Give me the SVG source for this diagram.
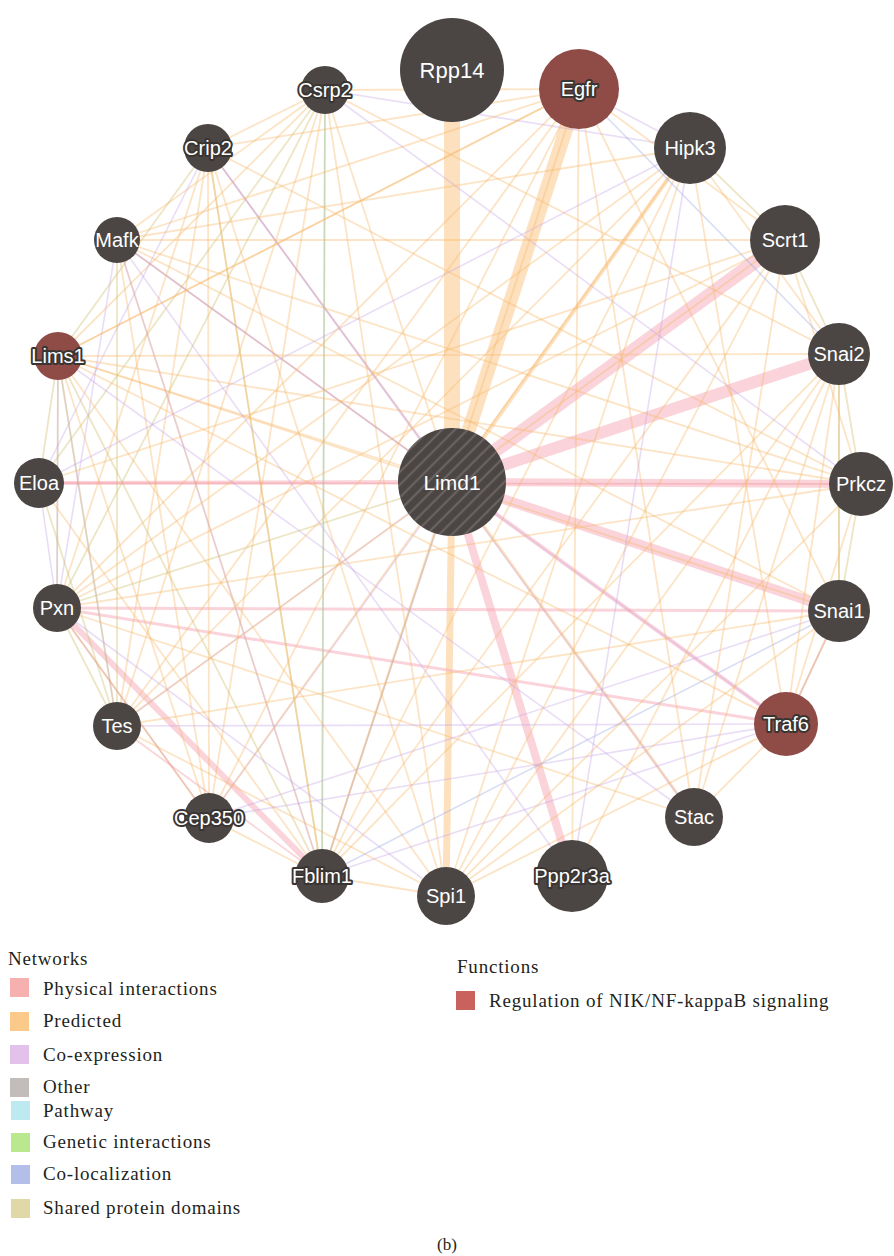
<svg xmlns="http://www.w3.org/2000/svg" width="894" height="1256" viewBox="0 0 894 1256">
<style>
.pr{stroke:#f6b868;stroke-opacity:.38;stroke-width:1.8;fill:none}
.ph{stroke:#f08a94;stroke-opacity:.36;stroke-width:1.8;fill:none}
.ce{stroke:#c6a0e6;stroke-opacity:.36;stroke-width:1.6;fill:none}
.sd{stroke:#cfc170;stroke-opacity:.4;stroke-width:1.8;fill:none}
.cl{stroke:#98a6e2;stroke-opacity:.38;stroke-width:1.6;fill:none}
.pw{stroke:#98d8e2;stroke-opacity:.55;stroke-width:1.6;fill:none}
.tpr{stroke:#fbc98a;stroke-opacity:.55;fill:none}
.tph{stroke:#f6aab6;stroke-opacity:.5;fill:none}
.n{fill:#4b4644}
.r{fill:#8f4b46}
.lb{font-family:"Liberation Sans",Arial,sans-serif;font-size:20px;fill:#ffffff;text-anchor:middle}
.o{stroke:#3a3533;stroke-width:4;stroke-linejoin:round;paint-order:stroke}
.lg{font-family:"Liberation Serif","Times New Roman",serif;font-size:19px;letter-spacing:0.8px;fill:#231f20}
</style>
<defs>
<pattern id="hatch" width="9" height="9" patternUnits="userSpaceOnUse" patternTransform="rotate(-45)">
<rect width="9" height="9" fill="#4b4644"/>
<line x1="0" y1="4.5" x2="9" y2="4.5" stroke="#6f6967" stroke-width="1.8"/>
</pattern>
</defs>
<rect width="894" height="1256" fill="#ffffff"/>
<g id="connectors">
<line class="tpr" x1="452" y1="482" x2="452" y2="70" stroke-width="16"/>
<line class="tpr" x1="452" y1="482" x2="579" y2="89" stroke-width="14"/>
<line class="tph" x1="452" y1="482" x2="785" y2="240" stroke-width="14"/>
<line class="tph" x1="452" y1="482" x2="839" y2="354" stroke-width="12"/>
<line class="tph" x1="452" y1="482" x2="861" y2="484" stroke-width="8"/>
<line class="tph" x1="452" y1="482" x2="839" y2="611" stroke-width="10"/>
<line class="tph" x1="452" y1="482" x2="572" y2="876" stroke-width="8"/>
<line class="tpr" x1="452" y1="482" x2="446" y2="896" stroke-width="7"/>
<line class="tph" x1="452" y1="482" x2="786" y2="724" stroke-width="4"/>
<line class="tpr" x1="452" y1="482" x2="690" y2="148" stroke-width="4"/>
<line class="tpr" x1="452" y1="482" x2="694" y2="817" stroke-width="3"/>
<line class="tph" x1="452" y1="482" x2="39" y2="483" stroke-width="4"/>
<line class="tph" x1="57" y1="608" x2="322" y2="876" stroke-width="6"/>
<line class="tph" x1="57" y1="608" x2="839" y2="611" stroke-width="3"/>
<line class="tph" x1="57" y1="608" x2="786" y2="724" stroke-width="3"/>
<line class="pr" x1="452" y1="482" x2="325" y2="90"/>
<line class="pr" x1="452" y1="482" x2="208" y2="148"/>
<line class="ce" x1="452" y1="482" x2="208" y2="148"/>
<line class="ce" x1="452" y1="482" x2="117" y2="240"/>
<line class="pr" x1="452" y1="482" x2="117" y2="240"/>
<line class="pr" x1="452" y1="482" x2="58" y2="356"/>
<line class="sd" x1="452" y1="482" x2="57" y2="608"/>
<line class="ce" x1="452" y1="482" x2="117" y2="726"/>
<line class="ce" x1="452" y1="482" x2="209" y2="818"/>
<line class="pr" x1="452" y1="482" x2="322" y2="876"/>
<line class="cl" x1="452" y1="482" x2="322" y2="876"/>
<line class="sd" x1="325" y1="90" x2="57" y2="608"/>
<line class="pr" x1="325" y1="90" x2="117" y2="726"/>
<line class="pw" x1="325" y1="90" x2="322" y2="876"/>
<line class="sd" x1="325" y1="90" x2="322" y2="876"/>
<line class="pr" x1="325" y1="90" x2="209" y2="818"/>
<line class="pr" x1="325" y1="90" x2="58" y2="356"/>
<line class="pr" x1="325" y1="90" x2="117" y2="240"/>
<line class="sd" x1="325" y1="90" x2="39" y2="483"/>
<line class="ce" x1="325" y1="90" x2="690" y2="148"/>
<line class="pr" x1="325" y1="90" x2="579" y2="89"/>
<line class="pr" x1="325" y1="90" x2="839" y2="354"/>
<line class="pr" x1="325" y1="90" x2="446" y2="896"/>
<line class="pr" x1="325" y1="90" x2="208" y2="148"/>
<line class="ce" x1="325" y1="90" x2="861" y2="484"/>
<line class="sd" x1="208" y1="148" x2="322" y2="876"/>
<line class="pr" x1="208" y1="148" x2="117" y2="726"/>
<line class="pr" x1="208" y1="148" x2="57" y2="608"/>
<line class="ce" x1="208" y1="148" x2="39" y2="483"/>
<line class="pr" x1="208" y1="148" x2="209" y2="818"/>
<line class="pr" x1="208" y1="148" x2="446" y2="896"/>
<line class="ce" x1="208" y1="148" x2="694" y2="817"/>
<line class="pr" x1="208" y1="148" x2="579" y2="89"/>
<line class="pr" x1="208" y1="148" x2="861" y2="484"/>
<line class="sd" x1="208" y1="148" x2="58" y2="356"/>
<line class="pr" x1="208" y1="148" x2="322" y2="876"/>
<line class="pr" x1="117" y1="240" x2="861" y2="484"/>
<line class="pr" x1="117" y1="240" x2="839" y2="611"/>
<line class="ce" x1="117" y1="240" x2="786" y2="724"/>
<line class="pr" x1="117" y1="240" x2="322" y2="876"/>
<line class="ce" x1="117" y1="240" x2="322" y2="876"/>
<line class="pr" x1="117" y1="240" x2="785" y2="240"/>
<line class="pr" x1="117" y1="240" x2="690" y2="148"/>
<line class="ce" x1="117" y1="240" x2="57" y2="608"/>
<line class="sd" x1="117" y1="240" x2="117" y2="726"/>
<line class="pr" x1="117" y1="240" x2="209" y2="818"/>
<line class="pr" x1="58" y1="356" x2="839" y2="354"/>
<line class="pr" x1="58" y1="356" x2="861" y2="484"/>
<line class="pr" x1="58" y1="356" x2="786" y2="724"/>
<line class="sd" x1="58" y1="356" x2="322" y2="876"/>
<line class="pr" x1="58" y1="356" x2="446" y2="896"/>
<line class="pr" x1="58" y1="356" x2="579" y2="89"/>
<line class="sd" x1="58" y1="356" x2="39" y2="483"/>
<line class="sd" x1="58" y1="356" x2="57" y2="608"/>
<line class="ce" x1="58" y1="356" x2="57" y2="608"/>
<line class="ce" x1="58" y1="356" x2="117" y2="726"/>
<line class="pr" x1="58" y1="356" x2="839" y2="611"/>
<line class="ce" x1="58" y1="356" x2="694" y2="817"/>
<line class="sd" x1="58" y1="356" x2="117" y2="726"/>
<line class="pr" x1="58" y1="356" x2="209" y2="818"/>
<line class="ph" x1="39" y1="483" x2="861" y2="484"/>
<line class="ce" x1="39" y1="483" x2="690" y2="148"/>
<line class="ce" x1="39" y1="483" x2="57" y2="608"/>
<line class="pr" x1="39" y1="483" x2="322" y2="876"/>
<line class="pr" x1="39" y1="483" x2="785" y2="240"/>
<line class="sd" x1="39" y1="483" x2="117" y2="726"/>
<line class="pr" x1="57" y1="608" x2="861" y2="484"/>
<line class="sd" x1="57" y1="608" x2="117" y2="726"/>
<line class="pr" x1="57" y1="608" x2="579" y2="89"/>
<line class="pr" x1="57" y1="608" x2="785" y2="240"/>
<line class="ce" x1="57" y1="608" x2="446" y2="896"/>
<line class="pr" x1="57" y1="608" x2="694" y2="817"/>
<line class="sd" x1="57" y1="608" x2="209" y2="818"/>
<line class="pr" x1="57" y1="608" x2="690" y2="148"/>
<line class="ce" x1="117" y1="726" x2="786" y2="724"/>
<line class="pr" x1="117" y1="726" x2="839" y2="611"/>
<line class="pr" x1="117" y1="726" x2="690" y2="148"/>
<line class="pr" x1="117" y1="726" x2="579" y2="89"/>
<line class="ph" x1="117" y1="726" x2="322" y2="876"/>
<line class="pr" x1="117" y1="726" x2="446" y2="896"/>
<line class="pr" x1="117" y1="726" x2="785" y2="240"/>
<line class="ce" x1="209" y1="818" x2="786" y2="724"/>
<line class="ce" x1="209" y1="818" x2="839" y2="611"/>
<line class="pr" x1="209" y1="818" x2="690" y2="148"/>
<line class="pr" x1="209" y1="818" x2="579" y2="89"/>
<line class="pr" x1="209" y1="818" x2="322" y2="876"/>
<line class="ph" x1="209" y1="818" x2="57" y2="608"/>
<line class="pr" x1="322" y1="876" x2="690" y2="148"/>
<line class="pr" x1="322" y1="876" x2="579" y2="89"/>
<line class="pr" x1="322" y1="876" x2="785" y2="240"/>
<line class="ce" x1="322" y1="876" x2="786" y2="724"/>
<line class="pr" x1="322" y1="876" x2="839" y2="354"/>
<line class="pr" x1="322" y1="876" x2="446" y2="896"/>
<line class="cl" x1="322" y1="876" x2="839" y2="611"/>
<line class="pr" x1="446" y1="896" x2="861" y2="484"/>
<line class="pr" x1="446" y1="896" x2="839" y2="354"/>
<line class="pr" x1="446" y1="896" x2="786" y2="724"/>
<line class="pr" x1="446" y1="896" x2="839" y2="611"/>
<line class="pr" x1="446" y1="896" x2="690" y2="148"/>
<line class="pr" x1="446" y1="896" x2="785" y2="240"/>
<line class="pr" x1="572" y1="876" x2="839" y2="354"/>
<line class="pr" x1="572" y1="876" x2="579" y2="89"/>
<line class="ce" x1="572" y1="876" x2="117" y2="240"/>
<line class="pr" x1="694" y1="817" x2="839" y2="354"/>
<line class="pr" x1="694" y1="817" x2="785" y2="240"/>
<line class="pr" x1="694" y1="817" x2="786" y2="724"/>
<line class="pr" x1="694" y1="817" x2="579" y2="89"/>
<line class="sd" x1="690" y1="148" x2="785" y2="240"/>
<line class="sd" x1="785" y1="240" x2="839" y2="354"/>
<line class="sd" x1="839" y1="354" x2="861" y2="484"/>
<line class="sd" x1="861" y1="484" x2="839" y2="611"/>
<line class="sd" x1="839" y1="611" x2="786" y2="724"/>
<line class="pr" x1="839" y1="354" x2="839" y2="611"/>
<line class="sd" x1="839" y1="354" x2="839" y2="611"/>
<line class="pr" x1="839" y1="354" x2="786" y2="724"/>
<line class="pr" x1="861" y1="484" x2="786" y2="724"/>
<line class="pr" x1="785" y1="240" x2="861" y2="484"/>
<line class="pr" x1="690" y1="148" x2="839" y2="354"/>
<line class="cl" x1="579" y1="89" x2="839" y2="354"/>
<line class="ce" x1="579" y1="89" x2="690" y2="148"/>
<line class="pr" x1="579" y1="89" x2="785" y2="240"/>
<line class="pr" x1="579" y1="89" x2="839" y2="611"/>
<line class="pr" x1="579" y1="89" x2="117" y2="240"/>
<line class="pr" x1="579" y1="89" x2="58" y2="356"/>
<line class="ph" x1="839" y1="611" x2="786" y2="724"/>
<line class="pr" x1="690" y1="148" x2="786" y2="724"/>
<line class="ce" x1="690" y1="148" x2="572" y2="876"/>
</g>
<g id="node-Rpp14"><circle class="n" cx="452" cy="70" r="52"/><text class="lb" x="452" y="78" style="font-size:22px">Rpp14</text></g>
<g id="node-Egfr"><circle class="r" cx="579" cy="89" r="40"/><text class="lb o" x="579" y="96">Egfr</text></g>
<g id="node-Hipk3"><circle class="n" cx="690" cy="148" r="36"/><text class="lb" x="690" y="155">Hipk3</text></g>
<g id="node-Scrt1"><circle class="n" cx="785" cy="240" r="35"/><text class="lb" x="785" y="247">Scrt1</text></g>
<g id="node-Snai2"><circle class="n" cx="839" cy="354" r="31"/><text class="lb" x="839" y="361">Snai2</text></g>
<g id="node-Prkcz"><circle class="n" cx="861" cy="484" r="32"/><text class="lb" x="861" y="491">Prkcz</text></g>
<g id="node-Snai1"><circle class="n" cx="839" cy="611" r="31"/><text class="lb" x="839" y="618">Snai1</text></g>
<g id="node-Traf6"><circle class="r" cx="786" cy="724" r="32"/><text class="lb o" x="786" y="731">Traf6</text></g>
<g id="node-Stac"><circle class="n" cx="694" cy="817" r="29"/><text class="lb" x="694" y="824">Stac</text></g>
<g id="node-Ppp2r3a"><circle class="n" cx="572" cy="876" r="36"/><text class="lb o" x="572" y="883">Ppp2r3a</text></g>
<g id="node-Spi1"><circle class="n" cx="446" cy="896" r="29"/><text class="lb" x="446" y="903">Spi1</text></g>
<g id="node-Fblim1"><circle class="n" cx="322" cy="876" r="27"/><text class="lb o" x="322" y="883">Fblim1</text></g>
<g id="node-Cep350"><circle class="n" cx="209" cy="818" r="25"/><text class="lb o" x="209" y="825">Cep350</text></g>
<g id="node-Tes"><circle class="n" cx="117" cy="726" r="24"/><text class="lb" x="117" y="733">Tes</text></g>
<g id="node-Pxn"><circle class="n" cx="57" cy="608" r="24"/><text class="lb" x="57" y="615">Pxn</text></g>
<g id="node-Eloa"><circle class="n" cx="39" cy="483" r="25"/><text class="lb" x="39" y="490">Eloa</text></g>
<g id="node-Lims1"><circle class="r" cx="58" cy="356" r="24"/><text class="lb o" x="58" y="363">Lims1</text></g>
<g id="node-Mafk"><circle class="n" cx="117" cy="240" r="23"/><text class="lb" x="117" y="247">Mafk</text></g>
<g id="node-Crip2"><circle class="n" cx="208" cy="148" r="24"/><text class="lb o" x="208" y="155">Crip2</text></g>
<g id="node-Csrp2"><circle class="n" cx="325" cy="90" r="24"/><text class="lb o" x="325" y="97">Csrp2</text></g>
<g id="node-Limd1"><circle cx="452" cy="482" r="54" fill="url(#hatch)"/><text class="lb" x="452" y="490" style="font-size:21px">Limd1</text></g>
<g id="legend-networks">
<text class="lg" x="8" y="965">Networks</text>
<rect x="10" y="978" width="19" height="19" fill="#f7b0b0"/><text class="lg" x="43" y="995">Physical interactions</text>
<rect x="10" y="1012" width="19" height="19" fill="#fbc98a"/><text class="lg" x="43" y="1027">Predicted</text>
<rect x="10" y="1045" width="19" height="19" fill="#e2c2ea"/><text class="lg" x="43" y="1061">Co-expression</text>
<rect x="10" y="1078" width="19" height="19" fill="#c2bcbb"/><text class="lg" x="43" y="1093">Other</text>
<rect x="11" y="1101" width="19" height="19" fill="#bdeaf0"/><text class="lg" x="43" y="1117">Pathway</text>
<rect x="11" y="1133" width="19" height="19" fill="#b9e88f"/><text class="lg" x="43" y="1148">Genetic interactions</text>
<rect x="11" y="1165" width="19" height="19" fill="#b3bfe8"/><text class="lg" x="43" y="1180">Co-localization</text>
<rect x="11" y="1199" width="19" height="19" fill="#e0d8a6"/><text class="lg" x="43" y="1214">Shared protein domains</text>
</g>
<g id="legend-functions">
<text class="lg" x="457" y="973">Functions</text>
<rect x="456" y="991" width="19" height="19" fill="#c9625c"/><text class="lg" x="489" y="1007">Regulation of NIK/NF-kappaB signaling</text>
</g>
<text class="lg" x="447" y="1250" text-anchor="middle" style="font-size:17px;letter-spacing:0">(b)</text>
</svg>
